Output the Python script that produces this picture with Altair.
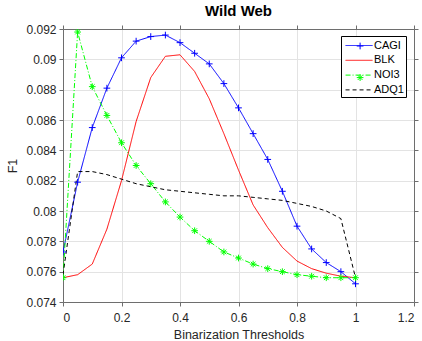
import altair as alt
import pandas as pd

thresholds = [0.0, 0.05, 0.1, 0.15, 0.2, 0.25, 0.3, 0.35, 0.4, 0.45, 0.5,
              0.55, 0.6, 0.65, 0.7, 0.75, 0.8, 0.85, 0.9, 0.95, 1.0]
cagi = [0.0773, 0.0819, 0.0855, 0.0881, 0.0901, 0.0912, 0.0915, 0.0916, 0.0911, 0.0904, 0.0897,
        0.0884, 0.0868, 0.0851, 0.0834, 0.0813, 0.0790, 0.0775, 0.0766, 0.0760, 0.0752]
blk = [0.0756, 0.0758, 0.0765, 0.0788, 0.0820, 0.0859, 0.0888, 0.0902, 0.0903, 0.0892, 0.0874,
       0.0851, 0.0827, 0.0804, 0.0789, 0.0776, 0.0767, 0.0762, 0.0759, 0.0757, 0.0756]
noi3 = [0.0756, 0.0918, 0.0882, 0.0863, 0.0845, 0.0830, 0.0818, 0.0806, 0.0796, 0.0787, 0.0780,
        0.0773, 0.0769, 0.0765, 0.0762, 0.0760, 0.0758, 0.0757, 0.0756, 0.0756, 0.0756]
adq1 = [0.0758, 0.0826, 0.0826, 0.0824, 0.0821, 0.0818, 0.0816, 0.0814, 0.0813, 0.0812, 0.0811,
        0.0810, 0.0810, 0.0809, 0.0808, 0.0807, 0.0805, 0.0803, 0.0800, 0.0795, 0.0756]

series_names = ["CAGI", "BLK", "NOI3", "ADQ1"]
series_colors = ["#0000ff", "#ff0000", "#00ff00", "#000000"]
series_dashes = [[1, 0], [1, 0], [5, 2, 1, 2], [4, 3]]
x_ticks = [0, 0.2, 0.4, 0.6, 0.8, 1.0, 1.2]
y_ticks = [0.074, 0.076, 0.078, 0.080, 0.082, 0.084, 0.086, 0.088, 0.090, 0.092]

PLUS = "M-1,0L1,0M0,-1L0,1"
STAR = "M-1,0L1,0M0,-1L0,1M-0.7,-0.7L0.7,0.7M-0.7,0.7L0.7,-0.7"
LEG_LINE = "M-2.85,0L1,0"
FONT = "Liberation Sans"

rows = []
for name, vals in zip(series_names, [cagi, blk, noi3, adq1]):
    for t, v in zip(thresholds, vals):
        rows.append({"t": t, "f1": v, "series": name})
df = pd.DataFrame(rows)

xscale = alt.Scale(domain=[0, 1.2], nice=False, zero=False)
yscale = alt.Scale(domain=[0.074, 0.092], nice=False, zero=False)

x_axis = alt.Axis(title="Binarization Thresholds", values=x_ticks, format=".1~f",
                  grid=True, titlePadding=5, labelPadding=6)
y_axis = alt.Axis(title="F1", values=y_ticks, format=".3~f", grid=True,
                  titlePadding=6, labelPadding=3)

legend_main = alt.Legend(title=None, orient="none", legendX=278, legendY=7,
                         fillColor="white", strokeColor="black", padding=2,
                         symbolType=LEG_LINE, symbolSize=196, symbolStrokeWidth=1,
                         symbolOffset=15,
                         labelFont=FONT, labelFontSize=11, labelColor="black",
                         labelOffset=1, rowPadding=1.8)

lines = alt.Chart(df).mark_line(strokeWidth=1, clip=True).encode(
    x=alt.X("t:Q", scale=xscale, axis=x_axis),
    y=alt.Y("f1:Q", scale=yscale, axis=y_axis),
    color=alt.Color("series:N", scale=alt.Scale(domain=series_names, range=series_colors),
                    legend=legend_main),
    strokeDash=alt.StrokeDash("series:N", scale=alt.Scale(domain=series_names, range=series_dashes),
                              legend=legend_main),
)

def marker_layer(name, path, color, ly):
    return alt.Chart(df).transform_filter(alt.datum.series == name).mark_point(
        filled=False, size=45, strokeWidth=1, color=color, opacity=1, clip=True
    ).encode(
        x=alt.X("t:Q", scale=xscale, axis=None),
        y=alt.Y("f1:Q", scale=yscale, axis=None),
        shape=alt.Shape("series:N", scale=alt.Scale(domain=[name], range=[path]),
                        legend=alt.Legend(title=None, orient="none", legendX=291.6, legendY=ly,
                                          padding=0, labelOpacity=0, symbolSize=45,
                                          symbolStrokeColor=color, symbolStrokeWidth=1,
                                          labelFontSize=11)),
    )

cagi_pts = marker_layer("CAGI", PLUS, "#0000ff", 11.5)
noi3_pts = marker_layer("NOI3", STAR, "#00ff00", 43.1)

frame = alt.Chart(df).mark_point(opacity=0, size=1).encode(
    x=alt.X("t:Q", scale=xscale,
            axis=alt.Axis(orient="top", values=x_ticks, labels=False, title=None, grid=False)),
    y=alt.Y("f1:Q", scale=yscale,
            axis=alt.Axis(orient="right", values=y_ticks, labels=False, title=None, grid=False)),
)

chart = alt.layer(lines, cagi_pts, noi3_pts, frame).resolve_scale(
    shape="independent"
).resolve_legend(shape="independent").resolve_axis(
    x="independent", y="independent"
).properties(
    width=351, height=273,
    autosize=alt.AutoSizeParams(type="none"),
    padding={"left": 63, "top": 29, "right": 8, "bottom": 39},
    title=alt.Title("Wild Web", font=FONT, fontSize=15, fontWeight="bold", color="black",
                    anchor="middle", offset=4),
).configure_view(stroke=None).configure_axis(
    labelFont=FONT, labelFontSize=12, labelColor="#262626",
    titleFont=FONT, titleFontSize=12.5, titleColor="#262626", titleFontWeight="normal",
    domainColor="#6e6e6e", domainWidth=1, tickColor="#6e6e6e", tickSize=4,
    gridColor="#e3e3e3", gridWidth=1,
)

chart.save("out.html", embed_options={"renderer": "svg", "actions": False})
